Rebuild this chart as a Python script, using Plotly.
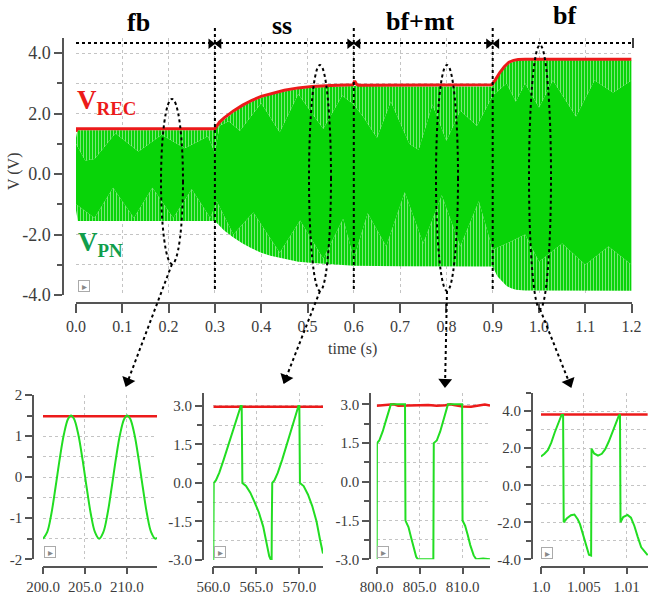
import plotly.graph_objects as go
import math

W, H = 648, 601
def P(x): return x / W
def Q(y): return 1 - y / H

GREEN = '#08d408'
RED = '#ec1a1a'
GRID = '#c4c4c4'
AX = '#555555'
TXT = '#3c3c3c'
FONT = 'Liberation Serif'

# ---------------- main chart data ----------------
t_rec = [0.0, 0.002, 0.3, 0.31, 0.32, 0.33, 0.34, 0.36, 0.38, 0.40, 0.42, 0.45, 0.48, 0.51, 0.55,
         0.598, 0.602, 0.606, 0.61, 0.7, 0.8, 0.898, 0.905, 0.915, 0.925, 0.935, 0.945, 0.955, 0.97, 1.1, 1.2]
v_rec = [1.4, 1.5, 1.5, 1.72, 1.86, 1.98, 2.09, 2.28, 2.44, 2.57, 2.66, 2.77, 2.85, 2.9, 2.93,
         2.95, 3.08, 2.97, 2.94, 2.94, 2.94, 2.95, 3.1, 3.35, 3.55, 3.7, 3.76, 3.79, 3.8, 3.8, 3.8]

t_pn_hi = [0.0, 0.003, 0.3, 0.31, 0.32, 0.33, 0.34, 0.36, 0.38, 0.40, 0.42, 0.45, 0.48, 0.51, 0.55,
           0.6, 0.7, 0.8, 0.9, 0.905, 0.915, 0.925, 0.935, 0.945, 0.955, 0.97, 1.1, 1.2]
v_pn_hi = [1.2, 1.45, 1.45, 1.66, 1.8, 1.93, 2.04, 2.24, 2.4, 2.52, 2.62, 2.73, 2.81, 2.86, 2.89,
           2.91, 2.9, 2.9, 2.9, 3.05, 3.3, 3.5, 3.65, 3.72, 3.75, 3.76, 3.76, 3.76]

t_pn_lo = [0.0, 0.004, 0.3, 0.31, 0.32, 0.34, 0.36, 0.38, 0.40, 0.42, 0.45, 0.48, 0.52, 0.56, 0.6,
           0.7, 0.8, 0.9, 0.91, 0.92, 0.93, 0.94, 0.95, 0.97, 1.1, 1.2]
v_pn_lo = [-1.2, -1.55, -1.55, -1.72, -1.87, -2.1, -2.3, -2.46, -2.6, -2.7, -2.81, -2.9, -2.95, -2.98, -3.03,
           -3.05, -3.05, -3.06, -3.38, -3.55, -3.7, -3.78, -3.83, -3.85, -3.86, -3.86]

# depth reached by the white (aliased) stripes inside the V_PN band
t_gap_hi = [0.0, 0.02, 0.04, 0.085, 0.135, 0.185, 0.235, 0.285, 0.3, 0.31, 0.33, 0.354, 0.40, 0.44, 0.48,
            0.534, 0.575, 0.6, 0.62, 0.65, 0.68, 0.72, 0.74, 0.77, 0.8, 0.83, 0.866, 0.9, 0.93, 0.95,
            0.97, 1.0, 1.03, 1.08, 1.12, 1.16, 1.2]
v_gap_hi = [1.0, 0.45, 0.5, 1.35, 0.75, 1.3, 0.85, 1.25, 0.7, 1.6, 1.75, 1.43, 2.35, 1.38, 2.65,
            1.5, 2.6, 2.3, 1.9, 1.2, 2.4, 1.0, 0.8, 2.3, 1.1, 2.1, 1.6, 2.6, 3.0, 2.4,
            3.0, 2.2, 3.1, 1.9, 3.1, 2.7, 3.1]
t_gap_lo = [0.0, 0.04, 0.08, 0.125, 0.165, 0.21, 0.25, 0.29, 0.304, 0.34, 0.383, 0.44, 0.484, 0.534,
            0.577, 0.6, 0.63, 0.67, 0.71, 0.75, 0.79, 0.83, 0.87, 0.9, 0.93, 0.97, 1.0, 1.05, 1.1, 1.15, 1.2]
v_gap_lo = [-1.0, -1.45, -0.45, -1.45, -0.45, -1.45, -0.5, -1.45, -0.9, -2.0, -1.27, -2.6, -1.54, -2.8,
            -1.48, -2.8, -1.3, -2.4, -0.6, -2.3, -0.7, -2.4, -0.9, -2.5, -2.3, -2.0, -2.9, -2.3, -3.0, -2.4, -3.0]

phase_names = ['fb', 'ss', 'bf+mt', 'bf']
phase_edges = [0.3, 0.6, 0.9]

main_xticks = [0.0, 0.1, 0.2, 0.3, 0.4, 0.5, 0.6, 0.7, 0.8, 0.9, 1.0, 1.1, 1.2]
main_yticks = [-4, -2, 0, 2, 4]
main_ytext = ['-4.0', '-2.0', '0.0', '2.0', '4.0']

# ---------------- inset data ----------------
i1_t = [200.0, 200.5, 201.0, 201.5, 202.0, 202.5, 203.0, 203.35, 203.7, 204.2, 204.7, 205.2, 205.7, 206.2,
        206.7, 207.2, 207.7, 208.2, 208.7, 209.2, 209.7, 210.05, 210.4, 210.9, 211.4, 211.9, 212.4, 212.9,
        213.4, 213.6]
i1_v = [-1.5, -1.34, -0.89, -0.24, 0.45, 1.05, 1.42, 1.5, 1.42, 1.05, 0.45, -0.24, -0.89, -1.34,
        -1.5, -1.34, -0.89, -0.24, 0.45, 1.05, 1.42, 1.5, 1.42, 1.05, 0.45, -0.24, -0.89, -1.34,
        -1.5, -1.47]
i1_rec_t = [200.0, 213.6]
i1_rec_v = [1.48, 1.48]

i2_t = [560.0, 560.02, 560.05, 560.3, 560.7, 561.2, 561.7, 562.2, 562.7, 563.0, 563.2, 563.3, 563.32, 563.38,
        563.8, 564.3, 564.8, 565.3, 565.8, 566.2, 566.5, 566.7, 566.78, 566.8, 566.85, 567.1, 567.5, 568.0,
        568.5, 569.0, 569.4, 569.7, 569.9, 570.0, 570.02, 570.07, 570.5, 571.0, 571.5, 572.0, 572.4, 572.75]
i2_v = [-3.0, -1.6, 0.0, 0.1, 0.4, 0.9, 1.45, 2.0, 2.5, 2.82, 3.0, 3.0, 1.6, 0.0,
        -0.12, -0.38, -0.75, -1.15, -1.7, -2.3, -2.85, -3.0, -3.0, -1.6, 0.0, 0.1, 0.4, 0.9,
        1.45, 2.0, 2.45, 2.8, 3.0, 3.0, 1.6, 0.0, -0.12, -0.45, -0.9, -1.5, -2.2, -2.75]
i2_rec_t = [560.0, 572.75]
i2_rec_v = [2.97, 2.97]

i3_t = [800.0, 800.03, 800.3, 800.7, 801.1, 801.5, 801.65, 802.5, 803.3, 803.35, 803.7, 804.0, 804.3, 804.6,
        804.8, 805.5, 806.6, 806.65, 807.0, 807.4, 807.8, 808.1, 808.3, 809.2, 809.95, 810.0, 810.3, 810.6,
        810.9, 811.3, 811.6, 812.4, 813.2]
i3_v = [-3.0, 1.5, 1.6, 1.95, 2.4, 2.85, 3.0, 3.0, 3.0, -1.5, -1.75, -2.15, -2.55, -2.9,
        -3.0, -3.0, -3.0, 1.5, 1.6, 1.95, 2.4, 2.8, 3.0, 3.0, 3.0, -1.5, -1.7, -2.05,
        -2.45, -2.85, -3.0, -2.97, -3.0]
i3_rec_t = [800.0, 801.0, 802.0, 802.5, 803.0, 804.0, 805.0, 806.0, 807.0, 808.0, 808.6, 809.0, 810.0, 811.0,
            812.0, 812.6, 813.2]
i3_rec_v = [2.95, 2.97, 3.0, 2.95, 2.96, 2.95, 2.97, 2.98, 2.95, 2.97, 3.0, 2.97, 2.92, 2.91,
            2.95, 2.99, 2.96]

i4_t = [1.0, 1.0004, 1.0008, 1.0012, 1.0016, 1.002, 1.0024, 1.00258, 1.00265, 1.003, 1.0035, 1.0039, 1.0043,
        1.00455, 1.0049, 1.0053, 1.0056, 1.00585, 1.0059, 1.0062, 1.00665, 1.0071, 1.0075, 1.0079, 1.0083,
        1.0087, 1.0091, 1.00922, 1.00928, 1.0096, 1.0101, 1.0105, 1.0109, 1.0113, 1.0117, 1.01245]
i4_v = [1.56, 1.7, 1.9, 2.3, 2.85, 3.35, 3.8, 3.8, -2.0, -1.8, -1.62, -1.58, -1.85,
        -2.1, -2.7, -3.35, -3.75, -3.8, 1.98, 1.72, 1.6, 1.7, 1.95, 2.35, 2.85,
        3.35, 3.78, 3.82, -2.0, -1.72, -1.6, -1.75, -2.2, -2.8, -3.35, -3.78]
i4_rec_t = [1.0, 1.01245]
i4_rec_v = [3.82, 3.82]

fig = go.Figure()

# V_PN band
STRIPES = dict(shape='|', fgcolor='white', bgcolor=GREEN, size=3, solidity=0.3)
fig.add_trace(go.Scatter(x=t_pn_lo, y=v_pn_lo, mode='lines', line=dict(width=0, color=GREEN),
                         xaxis='x', yaxis='y', showlegend=False, hoverinfo='skip'))
fig.add_trace(go.Scatter(x=t_gap_lo, y=v_gap_lo, mode='lines', line=dict(width=0, color=GREEN),
                         fill='tonexty', fillcolor=GREEN, fillpattern=STRIPES,
                         xaxis='x', yaxis='y', showlegend=False, hoverinfo='skip'))
fig.add_trace(go.Scatter(x=t_gap_hi, y=v_gap_hi, mode='lines', line=dict(width=0, color=GREEN),
                         fill='tonexty', fillcolor=GREEN,
                         xaxis='x', yaxis='y', showlegend=False, hoverinfo='skip'))
fig.add_trace(go.Scatter(x=t_pn_hi, y=v_pn_hi, mode='lines', line=dict(width=0, color=GREEN),
                         fill='tonexty', fillcolor=GREEN, fillpattern=STRIPES,
                         xaxis='x', yaxis='y', showlegend=False, hoverinfo='skip'))
fig.add_trace(go.Scatter(x=t_rec, y=v_rec, mode='lines', line=dict(width=3, color=RED),
                         xaxis='x', yaxis='y', showlegend=False))

# phase arrowheads on the top dotted line
ytop = (173.3 - 43) / 30.25
for e in phase_edges:
    fig.add_trace(go.Scatter(x=[e - 0.009, e + 0.009], y=[ytop, ytop], mode='markers',
                             marker=dict(symbol=['triangle-right', 'triangle-left'], size=9, color='black'),
                             xaxis='x', yaxis='y', showlegend=False, cliponaxis=False, hoverinfo='skip'))

insets = [(i1_t, i1_v, i1_rec_t, i1_rec_v), (i2_t, i2_v, i2_rec_t, i2_rec_v),
          (i3_t, i3_v, i3_rec_t, i3_rec_v), (i4_t, i4_v, i4_rec_t, i4_rec_v)]
for k, (tt, vv, rt, rv) in enumerate(insets):
    xa, ya = 'x%d' % (k + 2), 'y%d' % (k + 2)
    fig.add_trace(go.Scatter(x=rt, y=rv, mode='lines', line=dict(width=2.5, color=RED),
                             xaxis=xa, yaxis=ya, showlegend=False))
    fig.add_trace(go.Scatter(x=tt, y=vv, mode='lines', line=dict(width=2, color='#22dd22',
                             shape='spline' if k == 0 else 'linear'),
                             xaxis=xa, yaxis=ya, showlegend=False))

# arrowheads of the zoom pointers, on a full-page pixel overlay
arrows = [((172, 264), (126, 386)), ((320, 291), (284, 383)), ((447, 291), (445, 387)), ((540, 309), (571, 387))]
hx_list, hy_list, ang_list = [], [], []
for (tx, ty), (hx, hy) in arrows:
    dx, dy = hx - tx, hy - ty
    L = math.hypot(dx, dy)
    hx_list.append(hx - dx / L * 5)
    hy_list.append(hy - dy / L * 5)
    ang_list.append(math.degrees(math.atan2(dx, -dy)))
fig.add_trace(go.Scatter(x=hx_list, y=hy_list, mode='markers',
                         marker=dict(symbol='triangle-up', size=12, color='black', angle=ang_list),
                         xaxis='x6', yaxis='y6', showlegend=False, hoverinfo='skip', cliponaxis=False))

tickfont_main_x = dict(family=FONT, size=16, color=TXT)
tickfont_main_y = dict(family=FONT, size=18, color=TXT)
tickfont_in = dict(family=FONT, size=15, color=TXT)

def xax(dom, rng, pos, vals, text, font, ticklen=8, grid=True):
    return dict(domain=dom, range=rng, anchor='free', position=pos, showline=True, linecolor=AX,
                linewidth=1.5, ticks='outside', ticklen=ticklen, tickcolor=AX, tickwidth=1.5,
                tickvals=vals, ticktext=text, tickfont=font, showgrid=grid, gridcolor=GRID,
                griddash='dot', gridwidth=1, zeroline=False, automargin=False)

def yax(dom, rng, pos, vals, text, font, minor_dt, ticklen=8):
    return dict(domain=dom, range=rng, anchor='free', position=pos, showline=True, linecolor=AX,
                linewidth=1.5, ticks='outside', ticklen=ticklen, tickcolor=AX, tickwidth=1.5,
                tickvals=vals, ticktext=text, tickfont=font, showgrid=True, gridcolor=GRID,
                griddash='dot', gridwidth=1, zeroline=False, automargin=False,
                minor=dict(dtick=minor_dt, tick0=0, ticks='outside', ticklen=5, tickcolor=AX,
                           tickwidth=1.5, showgrid=True, gridcolor=GRID, griddash='dot', gridwidth=1))

layout = dict(width=W, height=H, margin=dict(l=0, r=0, t=0, b=0, autoexpand=False),
              paper_bgcolor='white', plot_bgcolor='rgba(0,0,0,0)', showlegend=False)

layout['xaxis'] = xax([P(76), P(631.6)], [0, 1.2], Q(303), main_xticks,
                      ['%.1f' % v for v in main_xticks], tickfont_main_x, ticklen=9)
layout['yaxis'] = yax([Q(295), Q(38)], [-4, 4.5], P(63), main_yticks, main_ytext, tickfont_main_y, 1)

layout['xaxis2'] = xax([P(43), P(157)], [200, 213.6], Q(566.7), [200, 205, 210],
                       ['200.0', '205.0', '210.0'], tickfont_in, ticklen=7)
layout['yaxis2'] = yax([Q(559.3), Q(395)], [-2, 2], P(33), [-2, -1, 0, 1, 2],
                       ['-2', '-1', '0', '1', '2'], tickfont_in, 0.5, ticklen=7)
layout['xaxis3'] = xax([P(213.3), P(323)], [560, 572.75], Q(566.7), [560, 565, 570],
                       ['560.0', '565.0', '570.0'], tickfont_in, ticklen=7)
layout['yaxis3'] = yax([Q(560), Q(393.3)], [-3, 3.49], P(202.7), [-3, -1.5, 0, 1.5, 3],
                       ['-3.0', '-1.5', '0.0', '1.5', '3.0'], tickfont_in, 0.75, ticklen=7)
layout['xaxis4'] = xax([P(376.7), P(490)], [800, 813.2], Q(566.7), [800, 805, 810],
                       ['800.0', '805.0', '810.0'], tickfont_in, ticklen=7)
layout['yaxis4'] = yax([Q(559.3), Q(393)], [-3, 3.44], P(370), [-3, -1.5, 0, 1.5, 3],
                       ['-3.0', '-1.5', '0.0', '1.5', '3.0'], tickfont_in, 0.75, ticklen=7)
layout['xaxis5'] = xax([P(541), P(648)], [1.0, 1.01249], Q(566.7), [1.0, 1.005, 1.01],
                       ['1.0', '1.005', '1.01'], tickfont_in, ticklen=7)
layout['yaxis5'] = yax([Q(559.3), Q(392.7)], [-4, 5], P(531.7), [-4, -2, 0, 2, 4],
                       ['-4.0', '-2.0', '0.0', '2.0', '4.0'], tickfont_in, 1, ticklen=7)
# invisible full-page overlay in pixel units
layout['xaxis6'] = dict(domain=[0, 1], range=[0, W], visible=False, anchor='y6', automargin=False)
layout['yaxis6'] = dict(domain=[0, 1], range=[H, 0], visible=False, anchor='x6', automargin=False)

fig.update_layout(**layout)

shapes = []
def pline(x0, y0, x1, y1, w=2):
    shapes.append(dict(type='line', xref='paper', yref='paper', x0=P(x0), y0=Q(y0), x1=P(x1), y1=Q(y1),
                       line=dict(color='black', width=w, dash='dot')))

pline(76, 43, 633, 43)
shapes.append(dict(type='line', xref='paper', yref='paper', x0=P(633), y0=Q(38), x1=P(633), y1=Q(48),
                   line=dict(color='black', width=1.5)))
for e in phase_edges:
    px = 76 + e * 463
    pline(px, 28, px, 289)

for (x0, y0, x1, y1) in [(161, 99, 183, 264), (309, 65, 331, 291), (436, 65, 458, 291), (529, 45, 551, 309)]:
    shapes.append(dict(type='circle', xref='paper', yref='paper', x0=P(x0), y0=Q(y1), x1=P(x1), y1=Q(y0),
                       line=dict(color='black', width=2, dash='dot')))

for (tx, ty), (hx, hy) in arrows:
    pline(tx, ty, hx, hy)

annotations = []
for name, (cx, cy) in zip(phase_names, [(138, 23), (282, 26), (420, 22), (564, 16)]):
    annotations.append(dict(xref='paper', yref='paper', x=P(cx), y=Q(cy), text='<b>%s</b>' % name,
                            showarrow=False, font=dict(family=FONT, size=26, color='black'),
                            xanchor='center', yanchor='middle'))

annotations.append(dict(xref='paper', yref='paper', x=P(75), y=Q(102), text='<b>V<sub>REC</sub></b>',
                        showarrow=False, font=dict(family=FONT, size=27, color=RED),
                        xanchor='left', yanchor='middle'))
annotations.append(dict(xref='paper', yref='paper', x=P(76), y=Q(244), text='<b>V<sub>PN</sub></b>',
                        showarrow=False, font=dict(family=FONT, size=27, color='#119e4c'),
                        xanchor='left', yanchor='middle'))
annotations.append(dict(xref='paper', yref='paper', x=P(14), y=Q(172), text='V (V)', textangle=-90,
                        showarrow=False, font=dict(family=FONT, size=16, color=TXT),
                        xanchor='center', yanchor='middle'))
annotations.append(dict(xref='paper', yref='paper', x=P(352), y=Q(349), text='time (s)',
                        showarrow=False, font=dict(family=FONT, size=16, color=TXT),
                        xanchor='center', yanchor='middle'))

for (cx, cy) in [(84, 286), (50, 552), (220, 552), (383, 552), (547, 553)]:
    annotations.append(dict(xref='paper', yref='paper', x=P(cx), y=Q(cy), text='&#9656;', showarrow=False,
                            font=dict(size=10, color='#888888'), bordercolor='#aaaaaa', borderwidth=1,
                            bgcolor='white', width=10, height=10, borderpad=0,
                            xanchor='center', yanchor='middle'))

fig.update_layout(shapes=shapes, annotations=annotations)
fig.write_html('out.html')
